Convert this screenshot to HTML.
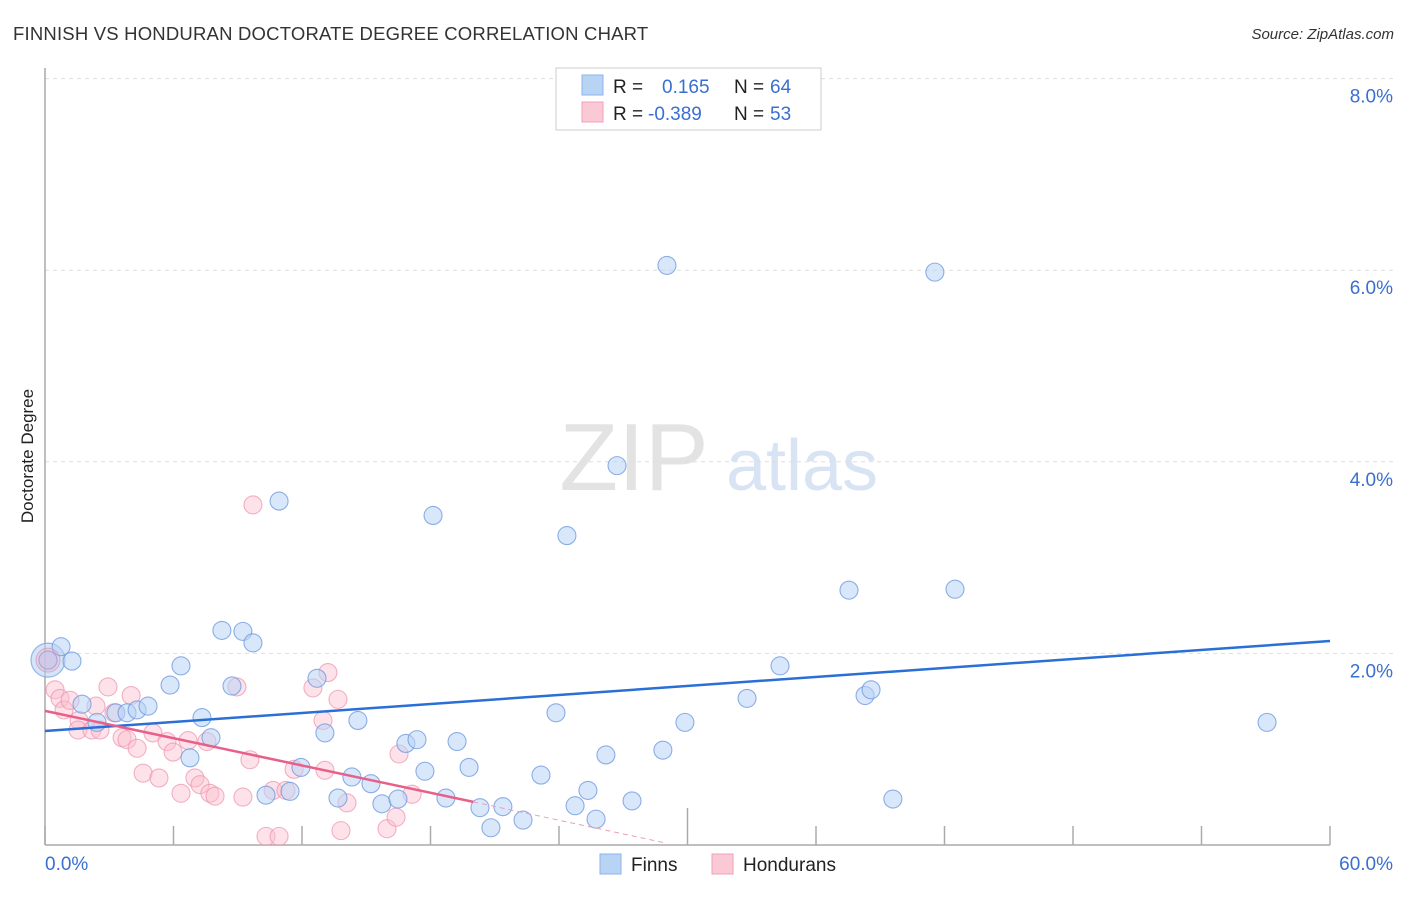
<!DOCTYPE html>
<html><head><meta charset="utf-8"><style>
body{margin:0;background:#fff;font-family:"Liberation Sans",sans-serif;}
svg text{font-family:"Liberation Sans",sans-serif;}
</style></head><body>
<svg id="chart" width="1406" height="892" xmlns="http://www.w3.org/2000/svg">
<text x="13" y="40" font-size="18.5" fill="#333" letter-spacing="0.2">FINNISH VS HONDURAN DOCTORATE DEGREE CORRELATION CHART</text>
<text x="1394" y="39" font-size="15" fill="#333" font-style="italic" text-anchor="end">Source: ZipAtlas.com</text>
<text transform="translate(33,456) rotate(-90)" font-size="17" fill="#222" text-anchor="middle">Doctorate Degree</text>
<g>
<text x="634" y="490" font-size="96" font-family="Liberation Serif" fill="#d8d8d8" text-anchor="middle" opacity="0.7">ZIP</text>
<text x="802" y="490" font-size="72" fill="#c8d8ee" text-anchor="middle" opacity="0.7">atlas</text>
</g>
<g id="grid"></g>
<g id="axes"></g>
<g id="pts"></g>
<g id="trends"></g>
<g>
<rect x="556" y="68" width="265" height="62" fill="#fff" stroke="#ccc"/>
<rect x="582" y="75" width="21" height="20" fill="#b9d3f5" stroke="#8ab4ea"/>
<rect x="582" y="102" width="21" height="20" fill="#fbc9d6" stroke="#f0a0b8"/>
<text x="613" y="93" font-size="19" fill="#222">R =</text>
<text x="662" y="93" font-size="19" fill="#3a6fd1">0.165</text>
<text x="734" y="93" font-size="19" fill="#222">N =</text>
<text x="770" y="93" font-size="19" fill="#3a6fd1">64</text>
<text x="613" y="120" font-size="19" fill="#222">R =</text>
<text x="648" y="120" font-size="19" fill="#3a6fd1">-0.389</text>
<text x="734" y="120" font-size="19" fill="#222">N =</text>
<text x="770" y="120" font-size="19" fill="#3a6fd1">53</text>
</g>
<g>
<rect x="600" y="854" width="21" height="20" fill="#b9d3f5" stroke="#8ab4ea"/>
<text x="631" y="871" font-size="19" fill="#222">Finns</text>
<rect x="712" y="854" width="21" height="20" fill="#fbc9d6" stroke="#f0a0b8"/>
<text x="743" y="871" font-size="19" fill="#222">Hondurans</text>
</g>
</svg>
<script>
const yTicks=[2,4,6,8];
const yTickLabels=["2.0%","4.0%","6.0%","8.0%"];
const xTicks=[0,6,12,18,24,30,36,42,48,54,60];
const xAxisLabels=["0.0%","60.0%"];
const finnX=[0.14,0.75,1.26,1.73,2.43,3.31,3.83,4.30,4.81,5.84,6.35,6.77,7.33,7.75,8.26,8.73,9.24,9.71,10.32,10.93,11.44,11.95,12.70,13.07,13.68,14.33,14.61,15.22,15.73,16.48,16.85,17.37,17.74,18.12,18.72,19.24,19.80,20.31,20.82,21.38,22.32,23.16,23.86,24.37,24.75,25.35,25.73,26.19,26.71,27.41,28.85,29.04,29.88,32.78,34.32,37.54,38.29,38.57,39.59,41.55,42.49,57.06];
const finnY=[1.93,2.07,1.92,1.47,1.28,1.38,1.38,1.41,1.45,1.67,1.87,0.91,1.33,1.12,2.24,1.66,2.23,2.11,0.52,3.59,0.56,0.81,1.74,1.17,0.49,0.71,1.30,0.64,0.43,0.48,1.06,1.10,0.77,3.44,0.49,1.08,0.81,0.39,0.18,0.40,0.26,0.73,1.38,3.23,0.41,0.57,0.27,0.94,3.96,0.46,0.99,6.05,1.28,1.53,1.87,2.66,1.56,1.62,0.48,5.98,2.67,1.28];
const hondX=[0.47,0.70,0.89,1.17,1.59,1.54,2.19,2.38,2.57,2.94,3.22,3.60,3.83,4.02,4.30,4.58,5.04,5.32,5.70,5.98,6.35,6.68,7.00,7.24,7.56,7.70,7.94,8.96,9.24,9.57,9.71,10.32,10.93,10.65,11.25,11.63,12.51,12.98,13.07,13.21,13.68,13.82,14.10,15.97,16.39,16.53,17.14];
const hondY=[1.62,1.53,1.41,1.51,1.30,1.20,1.20,1.45,1.20,1.65,1.38,1.12,1.10,1.56,1.01,0.75,1.17,0.70,1.08,0.97,0.54,1.09,0.70,0.63,1.08,0.54,0.51,1.65,0.50,0.89,3.55,0.09,0.09,0.57,0.57,0.79,1.64,1.30,0.78,1.80,1.52,0.15,0.44,0.17,0.29,0.95,0.53];
const bigPoint=[0.14,1.93];
const finnTrend=[[0,1.19],[60,2.13]];
const hondTrend=[[0,1.40],[20,0.45]];
const hondTrendExt=[[20,0.45],[29,0.02]];

const NS="http://www.w3.org/2000/svg";
const X=v=>45+v/60*1285;
const Y=v=>845-v*95.8;
function mk(tag,attrs,parent){const e=document.createElementNS(NS,tag);for(const k in attrs)e.setAttribute(k,attrs[k]);document.getElementById(parent).appendChild(e);return e;}
yTicks.forEach((t,i)=>{
 const g=mk('line',{x1:45,x2:1393,y1:Y(t),y2:Y(t),stroke:'#ddd','stroke-dasharray':'4,4'},'grid');
 
 
 const tx=mk('text',{x:1393,y:Y(t)+24,'font-size':19,fill:'#3a6fd1','text-anchor':'end'},'grid');
 tx.textContent=yTickLabels[i];
 
 
});
const ya=mk('line',{x1:45,x2:45,y1:68,y2:845,stroke:'#aaa','stroke-width':1.5},'axes');


const xa=mk('line',{x1:45,x2:1330,y1:845,y2:845,stroke:'#aaa','stroke-width':1.5},'axes');


xTicks.forEach(t=>{
 const l=mk('line',{x1:X(t),x2:X(t),y1:(t===30?808:826),y2:845,stroke:'#aaa','stroke-width':1.5},'axes');
 
 
});
const xl0=mk('text',{x:45,y:870,'font-size':19,fill:'#3a6fd1'},'axes');xl0.textContent=xAxisLabels[0];


const xl1=mk('text',{x:1393,y:870,'font-size':19,fill:'#3a6fd1','text-anchor':'end'},'axes');xl1.textContent=xAxisLabels[1];



const bp=mk('circle',{cx:X(bigPoint[0]),cy:Y(bigPoint[1]),r:17,fill:'rgba(185,211,245,0.6)',stroke:'rgba(110,155,225,0.7)','stroke-width':1.2},'pts');


hondX.forEach((x,i)=>{
 const c=mk('circle',{cx:X(x),cy:Y(hondY[i]),r:9,fill:'rgba(251,190,206,0.45)',stroke:'rgba(238,145,172,0.7)','stroke-width':1.1},'pts');
 
 
});
finnX.forEach((x,i)=>{
 const c=mk('circle',{cx:X(x),cy:Y(finnY[i]),r:9,fill:'rgba(185,211,245,0.55)',stroke:'rgba(105,150,222,0.75)','stroke-width':1.1},'pts');
 
 
});
const bp2=mk('circle',{cx:X(bigPoint[0]),cy:Y(bigPoint[1]),r:12,fill:'rgba(230,170,200,0.35)',stroke:'rgba(220,140,170,0.6)','stroke-width':1},'pts');


const ft=mk('line',{x1:X(finnTrend[0][0]),y1:Y(finnTrend[0][1]),x2:X(finnTrend[1][0]),y2:Y(finnTrend[1][1]),stroke:'#2a6fd6','stroke-width':2.5},'trends');


const ht=mk('line',{x1:X(hondTrend[0][0]),y1:Y(hondTrend[0][1]),x2:X(hondTrend[1][0]),y2:Y(hondTrend[1][1]),stroke:'#e8608a','stroke-width':2.5},'trends');


const he=mk('line',{x1:X(hondTrendExt[0][0]),y1:Y(hondTrendExt[0][1]),x2:X(hondTrendExt[1][0]),y2:Y(hondTrendExt[1][1]),stroke:'#e8a0b8','stroke-width':1,'stroke-dasharray':'5,4'},'trends');


</script>
</body></html>
